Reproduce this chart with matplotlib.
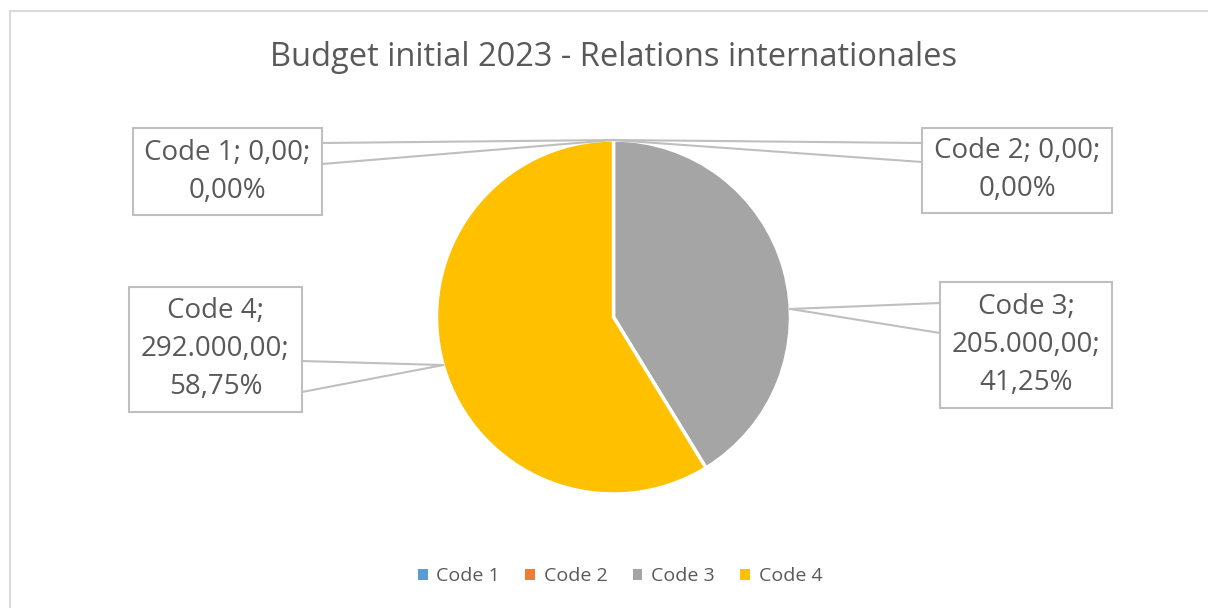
import numpy as np
import matplotlib
matplotlib.use("Agg")
import matplotlib.pyplot as plt
from matplotlib.patches import Rectangle, Patch
from matplotlib.lines import Line2D

# Data
categories = ["Code 1", "Code 2", "Code 3", "Code 4"]
amounts = [0.0, 0.0, 205000.0, 292000.0]
title = "Budget initial 2023 - Relations internationales"

colors = ["#5B9BD5", "#ED7D31", "#A5A5A5", "#FFC000"]
TEXT = "#595959"
LINE = "#BFBFBF"
FONT = "Open Sans"

W, H = 1208, 608
fig = plt.figure(figsize=(W / 100, H / 100), dpi=100)
fig.patch.set_facecolor("white")


def fx(px):
    return px / W


def fy(py):
    return 1 - py / H


# Chart frame (only top and left edges fall inside the image)
fig.add_artist(Line2D([fx(9.5), 1.0], [fy(10.5), fy(10.5)], color="#D9D9D9", lw=1.5))
fig.add_artist(Line2D([fx(9.5), fx(9.5)], [fy(10.5), 0.0], color="#D9D9D9", lw=1.5))

# Title
fig.text(fx(614), fy(57), title, ha="center", va="center", fontsize=23.5,
         color=TEXT, family=FONT)

# Pie
cx, cy, r = 613.5, 317, 177
ax = fig.add_axes([fx(cx - r), fy(cy + r), fx(2 * r), (2 * r) / H])
ax.pie(amounts, colors=colors, startangle=90, counterclock=False,
       wedgeprops=dict(edgecolor="white", linewidth=2.5))
ax.set_xlim(-1, 1)
ax.set_ylim(-1, 1)
ax.set_aspect("auto")
ax.axis("off")

total = sum(amounts)
fracs = [a / total for a in amounts]
starts = 90 - 360 * np.concatenate([[0], np.cumsum(fracs)[:-1]])
mids = starts - 180 * np.array(fracs)


def fmt_num(v):
    s = f"{v:,.2f}"
    return s.replace(",", " ").replace(".", ",").replace(" ", ".")


def fmt_pct(f):
    return f"{f * 100:.2f}".replace(".", ",") + "%"


labels = [f"{c}; {fmt_num(a)}; {fmt_pct(f)}" for c, a, f in zip(categories, amounts, fracs)]

# Label boxes: (left, top, right, bottom) in pixels, text lines, leader attach ys, side
boxes = [
    dict(rect=(133, 128, 322, 215), lines=[f"{categories[0]}; {fmt_num(amounts[0])};", fmt_pct(fracs[0])],
         attach=(143, 164), side="right", angle=mids[0]),
    dict(rect=(922, 128, 1112, 213), lines=[f"{categories[1]}; {fmt_num(amounts[1])};", fmt_pct(fracs[1])],
         attach=(143, 162), side="left", angle=mids[1]),
    dict(rect=(940, 282, 1112, 408), lines=[f"{categories[2]};", f"{fmt_num(amounts[2])};", fmt_pct(fracs[2])],
         attach=(303, 333), side="left", angle=2.6),
    dict(rect=(129, 287, 302, 412), lines=[f"{categories[3]};", f"{fmt_num(amounts[3])};", fmt_pct(fracs[3])],
         attach=(361, 392), side="right", angle=mids[3]),
]

for b in boxes:
    x0, y0, x1, y1 = b["rect"]
    fig.add_artist(Rectangle((fx(x0), fy(y1)), fx(x1 - x0), (y1 - y0) / H,
                             transform=fig.transFigure, facecolor="white",
                             edgecolor=LINE, lw=1.5, zorder=3))
    n = len(b["lines"])
    step = 38
    ymid = (y0 + y1) / 2
    for i, t in enumerate(b["lines"]):
        yy = ymid + (i - (n - 1) / 2) * step
        fig.text(fx((x0 + x1) / 2), fy(yy), t, ha="center", va="center",
                 fontsize=20, color=TEXT, family=FONT, zorder=4)
    # leader line to the pie rim
    a = np.deg2rad(b["angle"])
    px = cx + r * np.cos(a)
    py = cy - r * np.sin(a)
    ex = x1 if b["side"] == "right" else x0
    for ya in b["attach"]:
        fig.add_artist(Line2D([fx(ex), fx(px)], [fy(ya), fy(py)], color=LINE,
                              lw=1.5, zorder=2))

# Legend
handles = [Patch(facecolor=c, edgecolor="none") for c in colors]
fig.legend(handles, categories, loc="center", bbox_to_anchor=(fx(620), fy(576)),
           ncol=4, frameon=False, handlelength=0.5, handleheight=0.5,
           handletextpad=0.45, columnspacing=1.3,
           prop=dict(family=FONT, size=14), labelcolor=TEXT)

fig.savefig("out.png", dpi=100, facecolor="white")
